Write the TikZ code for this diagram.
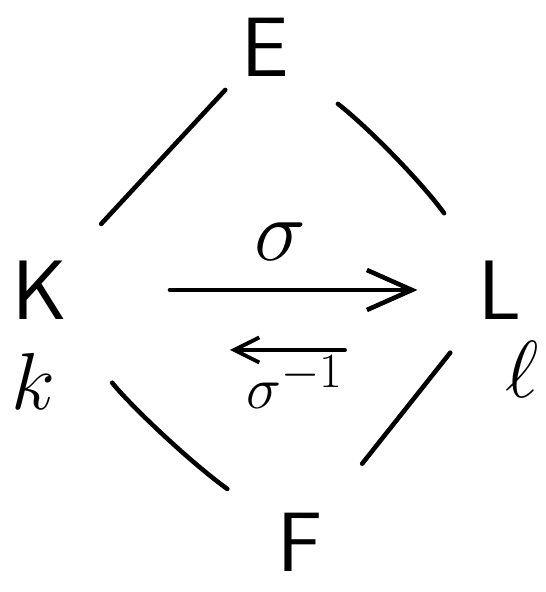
\documentclass[tikz,border=0pt]{standalone}
\usepackage{tikz}
\usetikzlibrary{positioning, arrows.meta}

\begin{document}
\begin{tikzpicture}[
  field/.style={font=\fontsize{48}{52}\selectfont\sffamily, inner sep=0pt},
  elem/.style={font=\Huge, scale=1.85, inner sep=0pt},
  maplabel/.style={font=\Huge, scale=2, inner sep=0pt},
  invlabel/.style={font=\Huge, scale=1.35, inner sep=0pt},
  edge/.style={line width=2.6pt, line cap=round},
  map/.style={line width=2.6pt, line cap=round,
              -{Straight Barb[length=9mm, width=8mm, line width=2.6pt]}}
]
  \useasboundingbox (0,0) rectangle (10.9,11.84);

  \node[field] (E) at (5.3, 10.9) {E};
  \node[field] (K) at (0.8, 6.04) {K};
  \node[field] (L) at (10.0, 6.04) {L};
  \node[field] (F) at (6.0, 1.0) {F};

  \node[elem] (k) at (0.66, 4.22) {$k$};
  \node[elem] (l) at (10.45, 4.45) {$\ell$};

  % the four sides of the diamond
  \draw[edge, shorten <=1.17cm, shorten >=1.8cm] (E.center) -- (K.center);
  \draw[edge, shorten <=1.85cm, shorten >=1.9cm] (E.center) to[bend left=8] (L.center);
  \draw[edge, shorten <=2.35cm, shorten >=1.8cm] (K.center) to[bend right=8] (F.center);
  \draw[edge, shorten <=1.6cm, shorten >=2cm] (L.center) -- (F.center);

  % sigma and its inverse
  \draw[map, shorten <=2.6cm, shorten >=1.65cm] (K.center) -- (L.center);
  \node[maplabel] (sigma) at (5.6, 7.0) {$\sigma$};

  \coordinate (inv start) at ([xshift=-3.1cm, yshift=-1.2cm]L.center);
  \coordinate (inv end) at ([xshift=3.8cm, yshift=-1.2cm]K.center);
  \draw[edge, -{Straight Barb[length=5mm, width=5mm, line width=2.2pt]}, line width=2.2pt]
    (inv start) -- (inv end);
  \node[invlabel] (sigmainv) at (5.9, 4.2) {$\sigma^{-1}$};
\end{tikzpicture}
\end{document}
